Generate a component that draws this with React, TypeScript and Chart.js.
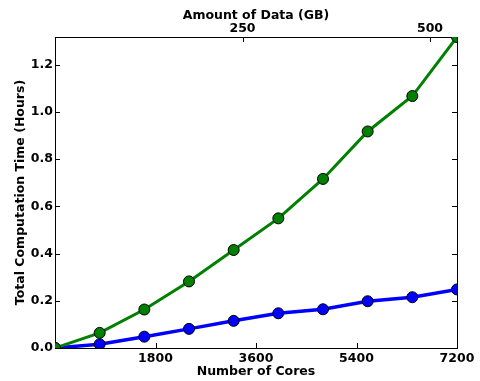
import React, { useEffect, useRef } from "react";
import { Chart, registerables } from "chart.js";

Chart.register(...registerables);

const cores = [0, 800, 1600, 2400, 3200, 4000, 4800, 5600, 6400, 7200];
const greenHours = [0, 0.064, 0.163, 0.282, 0.415, 0.549, 0.716, 0.917, 1.067, 1.317];
const blueHours = [0, 0.016, 0.048, 0.081, 0.115, 0.147, 0.164, 0.198, 0.215, 0.248];
const xTicks = [0, 1800, 3600, 5400, 7200];
const topTicks = [0, 250, 500];
const yTicks = [0, 0.2, 0.4, 0.6, 0.8, 1.0, 1.2];

const X_MAX = 7200;
const TOP_MAX = 536;
const Y_MAX = 1.317;

const FONT = { family: "DejaVu Sans", size: 12.5, weight: "bold" as const, lineHeight: 1.2 };

const framePlugin = {
  id: "frame",
  beforeDatasetsDraw(chart: any) {
    const { ctx, chartArea: a, scales } = chart;
    const L = 5;
    ctx.save();
    ctx.strokeStyle = "#000";
    ctx.lineWidth = 1;
    ctx.beginPath();
    scales.y.ticks.forEach((t: any) => {
      const y = Math.round(scales.y.getPixelForValue(t.value)) + 0.5;
      ctx.moveTo(a.left, y);
      ctx.lineTo(a.left + L, y);
      ctx.moveTo(a.right, y);
      ctx.lineTo(a.right - L, y);
    });
    scales.x.ticks.forEach((t: any) => {
      const x = Math.round(scales.x.getPixelForValue(t.value)) + 0.5;
      ctx.moveTo(x, a.bottom);
      ctx.lineTo(x, a.bottom - L);
    });
    scales.x2.ticks.forEach((t: any) => {
      const x = Math.round(scales.x2.getPixelForValue(t.value)) + 0.5;
      ctx.moveTo(x, a.top);
      ctx.lineTo(x, a.top + L);
    });
    ctx.stroke();
    ctx.strokeRect(
      Math.round(a.left) + 0.5,
      Math.round(a.top) + 0.5,
      Math.round(a.right - a.left),
      Math.round(a.bottom - a.top)
    );
    ctx.restore();
  },
};

export default function App() {
  const ref = useRef<HTMLCanvasElement>(null);
  useEffect(() => {
    document.body.style.margin = "0";
    const chart = new Chart(ref.current!, {
      type: "line",
      data: {
        datasets: [
          {
            data: cores.map((c, i) => ({ x: c, y: greenHours[i] })),
            borderColor: "#008000",
            backgroundColor: "#008000",
            borderWidth: 3,
            pointRadius: 5.5,
            pointBorderWidth: 1,
            pointBorderColor: "#000",
            pointBackgroundColor: "#008000",
            xAxisID: "x",
            yAxisID: "y",
          },
          {
            data: cores.map((c, i) => ({ x: c, y: blueHours[i] })),
            borderColor: "#0000ff",
            backgroundColor: "#0000ff",
            borderWidth: 3.5,
            pointRadius: 5.5,
            pointBorderWidth: 1,
            pointBorderColor: "#000",
            pointBackgroundColor: "#0000ff",
            xAxisID: "x",
            yAxisID: "y",
          },
        ],
      },
      options: {
        animation: false,
        responsive: false,
        layout: { padding: { left: 0, right: 23, top: 0, bottom: 0 } },
        plugins: { legend: { display: false }, tooltip: { enabled: false } },
        scales: {
          x: {
            type: "linear",
            position: "bottom",
            min: 0,
            max: X_MAX,
            grid: { display: false, drawTicks: false },
            border: { display: false },
            afterBuildTicks: (s: any) => {
              s.ticks = xTicks.map((v) => ({ value: v }));
            },
            afterFit: (s: any) => {
              s.height = 33;
            },
            ticks: {
              color: "#000",
              font: FONT,
              padding: 3,
              maxRotation: 0,
              autoSkip: false,
              callback: (v: any) => (v === 0 ? "" : String(v)),
            },
            title: {
              display: true,
              text: "Number of Cores",
              color: "#000",
              font: FONT,
              padding: { top: 0, bottom: 2 },
            },
          },
          x2: {
            type: "linear",
            position: "top",
            min: 0,
            max: TOP_MAX,
            display: true,
            grid: { display: false, drawTicks: false },
            border: { display: false },
            afterBuildTicks: (s: any) => {
              s.ticks = topTicks.map((v) => ({ value: v }));
            },
            afterFit: (s: any) => {
              s.height = 37;
            },
            ticks: {
              color: "#000",
              font: FONT,
              padding: 1,
              maxRotation: 0,
              autoSkip: false,
              callback: (v: any) => (v === 0 ? "" : String(v)),
            },
            title: {
              display: true,
              text: "Amount of Data (GB)",
              color: "#000",
              font: FONT,
              padding: { top: 8, bottom: 0 },
            },
          },
          y: {
            type: "linear",
            position: "left",
            min: 0,
            max: Y_MAX,
            grid: { display: false, drawTicks: false },
            border: { display: false },
            afterBuildTicks: (s: any) => {
              s.ticks = yTicks.map((v) => ({ value: v }));
            },
            afterFit: (s: any) => {
              s.width = 55;
            },
            ticks: {
              color: "#000",
              font: FONT,
              padding: 2,
              autoSkip: false,
              callback: (v: any) => Number(v).toFixed(1),
            },
            title: {
              display: true,
              text: "Total Computation Time (Hours)",
              color: "#000",
              font: FONT,
              padding: { top: 13, bottom: 0 },
            },
          },
        },
      },
      plugins: [framePlugin],
    });
    return () => chart.destroy();
  }, []);
  return <canvas ref={ref} width={480} height={381} style={{ display: "block" }} />;
}
